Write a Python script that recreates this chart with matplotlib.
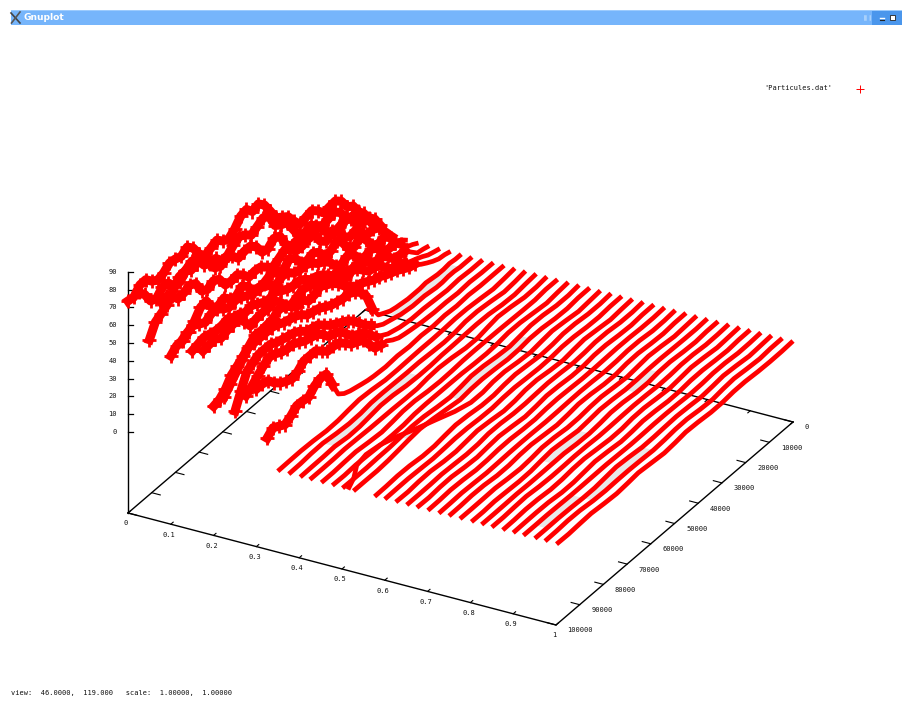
import numpy as np
import matplotlib
matplotlib.use("Agg")
import matplotlib.pyplot as plt
from matplotlib.patches import Rectangle, Polygon

t_knots = [0, 5000, 10000, 15000, 20000, 25000, 30000, 35000, 40000, 45000, 50000,
           55000, 60000, 65000, 70000, 75000, 80000, 85000, 90000, 95000, 100000]
t_mids = [2500, 7500, 12500, 17500, 22500, 27500, 32500, 37500, 42500, 47500,
          52500, 57500, 62500, 67500, 72500, 77500, 82500, 87500, 92500, 97500]

# particles near the left wall: start x and height z at each t knot
wild_x = [0.0, 0.025, 0.05, 0.075, 0.1, 0.125, 0.15, 0.175, 0.2, 0.225, 0.25, 0.275, 0.3, 0.325]
wild_z = [
    [0, 18.6, 27, 29.5, 33, 35, 38.7, 46.6, 55.7, 65.4, 68, 62.7, 61.7, 63.5, 65.8, 75.4, 74.4, 72.2, 73.4, 76.9, 73.6],
    [0, 16, 20, 28, 30, 32, 33.5, 41.5, 49.5, 60, 60, 61, 61, 58, 62, 70, 70, 66.5, 71.6, 69.5, 80],
    [0, 14.5, 18, 26, 27, 29.5, 38.5, 36.5, 39, 50.5, 49, 56, 59, 62, 62, 69.5, 75, 76.5, 71, 64, 55],
    [0, 8.8, 16, 19.6, 23, 33, 32, 42.4, 40.8, 44.8, 44.9, 46, 49.6, 53, 55.3, 62, 62, 71, 71.4, 75.4, 78.3],
    [0, 5.3, 13.2, 14.4, 24.6, 23.6, 33.8, 31, 38.4, 38.5, 46.5, 44.3, 45.5, 45.6, 54, 52.5, 54.3, 62.8, 57.2, 51.7, 49],
    [0, 3.5, 11.4, 12.6, 19.4, 19.6, 27, 27, 35, 40, 42, 46, 45, 51, 51, 55, 55, 60, 58, 62, 59],
    [0, 1.7, 8.5, 9.7, 16.5, 18.9, 24.6, 25.8, 28.7, 35, 38, 43, 44, 48, 48, 52, 53, 56, 55, 57, 55],
    [0, 2.1, 5.6, 9, 11.3, 18.8, 21.6, 28.5, 28.5, 36, 38.8, 41.7, 41.8, 41.9, 50.4, 49.4, 47.8, 57.4, 56.3, 57.6, 56.5],
    [0, 1.5, 4.9, 10, 13, 16.5, 20, 23, 26, 32, 39, 43, 40.5, 43, 49, 47.6, 46.5, 43.8, 38.3, 31, 27],
    [0, 0.5, 0, 1, 0.5, 1, 2.3, 5.8, 22, 30, 32, 34, 38, 40, 45, 47, 50, 50, 50, 42, 34],
    [0, 0, 0.5, 0, 1, 1, 2, 4, 7, 13, 21, 26, 30, 36, 38, 43, 45, 48, 48, 44, 27.5],
    [0, 0, 0.5, 0, 0.5, 1, 1, 2, 4, 8, 16, 20, 28, 31, 38, 40, 44, 45, 48, 43, 37.6],
    [0, 0, 0.5, 0, 0.5, 0.5, 1, 2, 3.3, 7.3, 9, 19, 22.6, 29, 30, 36, 36, 31.6, 35, 42, 43],
    [0, 0, 0, 0.5, 0, 0.5, 0, 0.5, 0, 0.5, 0, 0.5, 1.8, 3.6, 7.6, 24.5, 23.5, 20.8, 18, 18, 17],
]
wild_z_mid = [
    [12, 21, 30, 29, 36, 34, 44, 49, 62, 64, 67, 60, 65, 62, 72, 73, 75, 71, 77, 73],
    [9, 20, 22, 31, 29, 35, 35, 48, 52, 62, 58, 63, 58, 62, 64, 72, 66, 71, 68, 76],
    [8, 18, 20, 28, 26, 35, 35, 40, 43, 52, 50, 59, 58, 64, 64, 74, 74, 76, 66, 62],
    [5, 14, 16, 24, 26, 35, 35, 43, 41, 47, 43, 49, 49, 56, 56, 64, 64, 73, 71, 78],
    [3, 10, 12, 20, 22, 30, 31, 36, 37, 44, 43, 47, 44, 51, 51, 56, 56, 62, 54, 52],
    [2, 8, 11, 17, 18, 25, 25, 32, 37, 42, 43, 47, 47, 52, 53, 56, 57, 60, 60, 61],
    [1, 5, 9, 14, 17, 23, 24, 28, 32, 37, 41, 43, 46, 47, 50, 51, 54, 55, 56, 56],
    [1, 4, 7, 11, 15, 21, 25, 30, 32, 38, 40, 43, 40, 47, 49, 49, 53, 57, 55, 57],
    [1, 3, 7, 11, 15, 18, 21, 25, 29, 36, 41, 41, 44, 46, 50, 47, 47, 41, 36, 28],
    [0, 0, 0.5, 0.5, 0.5, 1.5, 4, 12, 27, 32, 33, 36, 39, 43, 46, 49, 50, 50, 46, 38],
    [0, 0.5, 0, 0.5, 1, 1.5, 3, 5, 10, 17, 24, 28, 33, 37, 41, 44, 46, 48, 46, 36],
    [0, 0.25, 0.25, 0.25, 0.75, 1, 1.5, 3, 6, 12, 18, 24, 30, 35, 39, 42, 44, 47, 46, 40],
    [0, 0.25, 0.25, 0.25, 0.5, 0.75, 1.5, 2.6, 5, 8, 14, 21, 26, 30, 33, 36, 33, 33, 38, 43],
    [0, 0, 0.25, 0.25, 0.25, 0.25, 0.25, 0.25, 0.25, 0.25, 0.25, 1, 2.7, 5, 16, 25, 20, 21, 16, 20],
]

# particles lying flat on z = 0: start x and drift (in x, thousandths) at each t knot
flat_x = [0.35, 0.375, 0.4, 0.425, 0.45, 0.475, 0.5, 0.525, 0.55, 0.575, 0.6, 0.625, 0.65, 0.675,
          0.7, 0.725, 0.75, 0.775, 0.8, 0.825, 0.85, 0.875, 0.9, 0.925, 0.95, 0.975, 1.0]
common_wave = [0, 1, 2, 0, -1.5, 0, 2, 1, -1, -1, 1, 2, 0, -1.5, 0, 1.5, 1, -1, -1, 0, 0]
flat_drift = [
    [0, 1.8, 3, 1.8, 0.6, -1.2, -1.8, 0, 1.8, 2.4, 1.2, 0, -1.8, -2.4, -1.2, 0.6, 1.8, 1.2, 0, -0.6, 0],
    [0, 2.4, 3.6, 1.2, -0.6, -1.8, 0, 2.4, 3, 1.2, -0.6, -2.4, -1.2, 0.6, 2.4, 1.8, 0, -1.8, -1.2, 0, 0.6],
    [0, 1.2, 3, 3.6, 1.2, -1.2, -2.4, -0.6, 1.8, 3.6, 1.8, -0.6, -2.4, -1.8, 0, 1.8, 3, 1.2, 2.4, 1.8, 2.4],
    [0, 1.8, 1.2, -1.2, -2.4, 0, 2.4, 3, 0.6, -1.8, -2.4, 0, 1.8, 2.4, 0.6, -1.2, -1.8, -0.6, 0.6, 0, 0],
    [0, -1.2, 0.6, 2.4, 3, 0.6, -1.8, -1.2, 1.2, 3, 1.8, -0.6, -1.8, 0, 1.8, 3, 1.2, 0, 1.2, 1.8, 1.8],
    [0, 1.2, 3, 1.8, 0, -1.8, -0.6, 1.8, 3, 1.2, -1.2, -2.4, -0.6, 1.8, 3.6, 3, 3, 3.6, 2.4, 3, 2.4],
    [0, 1.8, 0.6, -1.2, -0.6, 1.2, 2.4, 1.2, -0.6, -1.8, 0, 1.8, 1.2, -1.2, -3.6, -3, -0.6, 1.8, 3, 1.8, 1.2],
    [0, -0.6, 1.2, 2.4, 0.6, -1.2, 0, 1.8, 1.2, -0.6, -1.8, 0, -2.4, -5, -9, -8, -4, 1.2, 3, 1.8, 1.8],
    [0, 1.2, 2.4, 0.6, -0.6, 0.6, 1.8, 0.6, -1.2, -0.6, 1.2, 0, -8, -23, -40, -60, -73, -76, -70, -50, -36],
    [0, 1.2, 0, -1.2, 0, 1.8, 1.2, -0.6, -1.2, 0.6, 1.8, 0.6, -1.2, -1.8, -0.6, 1.2, 1.8, 0.6, 0, 0.6, 1.2],
    [0, -0.6, 0.6, 1.8, 0.6, -1.2, -0.6, 1.2, 1.8, 0, -1.2, 0, 1.2, 0.6, -1.2, -1.2, 0.6, 1.2, 0, -0.6, 0],
    [0, 0.6, 1.8, 0.6, -0.6, 0.6, 1.8, 0.6, -1.2, -0.6, 1.2, 1.8, 0, -1.2, 0, 1.2, 0.6, -0.6, 0, 1.2, 0.6],
    [0, 1.2, 0, -1.2, 0, 1.2, 0.6, -0.6, 0, 1.2, 0.6, -0.6, -1.2, 0, 1.8, 1.2, 0, 0.6, 1.8, 1.2, 1.2],
    [0, -0.6, 0.6, 1.2, 0, -1.2, 0, 1.2, 0.6, -0.6, 0.6, 1.8, 0.6, -0.6, 0, 1.2, 0, -1.2, -0.6, 0.6, 0],
    [0, 0.6, -0.6, 0, 1.2, 0.6, -0.6, 0.6, 1.2, 0, -1.2, 0, 1.2, 0.6, -0.6, 0, 1.2, 0.6, -0.6, 0, 0.6],
    [0, 1.2, 0.6, -0.6, 0.6, 1.2, 0, -0.6, 0.6, 1.2, 0, -0.6, 0.6, 1.8, 0.6, 0, 1.2, 1.8, 0.6, 0.6, 1.2],
    [0, -0.6, 0.6, 1.2, 0, -0.6, 0.6, 1.2, 0, -1.2, 0, 1.2, 0.6, -0.6, -1.2, 0, 0.6, -0.6, -1.2, -0.6, 0],
    [0, 0.6, 1.2, 0, -0.6, 0.6, 1.2, 0, -0.6, 0.6, 1.2, 0.6, -0.6, 0, 1.8, 2.4, 1.2, 0.6, 1.2, 0.6, 0.6],
    [0, 0.6, -0.6, 0.6, 1.2, 0, -0.6, 0.6, 0, -1.2, -0.6, 0.6, -0.6, -1.8, -0.6, 1.2, 2.4, 3, 1.8, 2.4, 2.4],
    [0, -0.6, 0.6, 1.2, 0, -0.6, 0.6, 1.2, 0, -0.6, 0.6, 1.8, 3, 1.8, 0.6, -0.6, 0, 1.2, 1.8, 1.2, 1.2],
    [0, 0.6, 0, -0.6, 0.6, 1.2, 0, -0.6, 0.6, 1.2, 0, -0.6, 0, 1.2, 0.6, -0.6, -1.2, -1.8, -0.6, 0, 0],
    [0, 0.6, 1.2, 0, -0.6, 0.6, 1.2, 0, -0.6, 0, 1.2, 0.6, 0, -1.2, -1.8, -0.6, 0.6, 0, -0.6, 0, 0.6],
    [0, -0.6, 0.6, 1.2, 0.6, -0.6, 0, 1.2, 0.6, -0.6, 0, 0.6, -0.6, -1.2, 0, 1.2, 1.8, 0.6, 0, -0.6, 0],
    [0, 0.6, 0, -0.6, 0.6, 1.2, 0, -0.6, 0.6, 0.6, -0.6, -1.2, 0, 0.6, -0.6, -1.8, -1.2, 0, -0.6, -1.2, -1.2],
    [0, 0.6, 1.2, 0, -0.6, 0.6, 0.6, -0.6, 0, 1.2, 0.6, 0, -1.2, -1.8, -0.6, 0.6, 1.2, 1.8, 1.2, 0.6, 0.6],
    [0, -0.6, 0.6, 0.6, -0.6, 0, 1.2, 0.6, -0.6, 0, 0.6, 1.2, 1.8, 2.4, 1.2, 0.6, 0, -1.2, -1.8, -1.2, -0.6],
    [0, 0.6, 0, 1.2, 0.6, -0.6, 0, 1.2, 0.6, -0.6, 0.6, 1.8, 1.2, 0, 1.2, 1.8, 0.6, 0, 1.2, 1.8, 1.2],
]

# shaded gaps between flat tracks: left track, right track, first knot, last knot
gray_gaps = [(1, 2, 10, 17), (6, 7, 5, 11), (6, 7, 14, 15), (18, 19, 5, 7), (18, 19, 11, 14),
             (24, 25, 11, 16), (23, 24, 16, 19)]
hook_gap_x = (0.225, 0.25)
hook_gap_knots = (1, 6)

x_ticks = [0, 0.1, 0.2, 0.3, 0.4, 0.5, 0.6, 0.7, 0.8, 0.9, 1]
x_labels = ["0", "0.1", "0.2", "0.3", "0.4", "0.5", "0.6", "0.7", "0.8", "0.9", "1"]
t_ticks = [0, 10000, 20000, 30000, 40000, 50000, 60000, 70000, 80000, 90000, 100000]
z_ticks = [0, 10, 20, 30, 40, 50, 60, 70, 80, 90]
Z_FLOOR = -45.5

RED = "#ff0000"
MONO = "DejaVu Sans Mono"
FS = 5.05


def project(x, t, z):
    """gnuplot view 46,119 as seen in this window, in window pixels."""
    x, t, z = np.asarray(x, float), np.asarray(t, float) / 1e5, np.asarray(z, float)
    return 365 + 428 * x - 237 * t, 229 + 112 * x + 203 * t - 1.78 * z


fig = plt.figure(figsize=(9.03, 7.02), dpi=100)
ax = fig.add_axes([0, 0, 1, 1])
ax.set_xlim(0, 903)
ax.set_ylim(702, 0)
ax.axis("off")

# window title bar
ax.add_patch(Rectangle((11, 10), 892, 15, fc="#76b5fb", ec="none"))
ax.add_patch(Rectangle((11, 10), 892, 1.2, fc="#9ccbfd", ec="none"))
ax.add_patch(Rectangle((872, 11), 31, 14, fc="#4a96ec", ec="none"))
ax.plot([11, 20], [13, 23], color="#444444", lw=1.2)
ax.plot([11.5, 20], [23, 12], color="#555555", lw=1.2)
ax.text(24, 18, "Gnuplot", color="white", fontsize=6.6, fontweight="bold", va="center",
        family="DejaVu Sans")
ax.plot([864, 871], [18, 18], color="#a8d0fb", lw=4, ls=(0, (0.5, 0.5)))
ax.plot([880, 884], [18, 18], color="white", lw=1)
ax.plot([880, 884], [20, 20], color="#222222", lw=0.8)
ax.add_patch(Rectangle((890, 15), 5, 5, fc="white", ec="#222222", lw=0.6))

# box edges on the floor
corners = [(0, 100000), (1, 100000), (1, 0)]
cx, cy = project([c[0] for c in corners], [c[1] for c in corners], [Z_FLOOR] * 3)
ax.plot(cx, cy, color="black", lw=1.0, zorder=1)
bx, by = project([0, 0, 1], [100000, 0, 0], [Z_FLOOR] * 3)
ax.plot(bx, by, color="black", lw=1.0, zorder=1)
zx, zy = project([0, 0], [100000, 100000], [Z_FLOOR, 90])
ax.plot(zx, zy, color="black", lw=1.0, zorder=1)

# ticks
for v, lab in zip(x_ticks, x_labels):
    fx, fy = project(v, 100000, Z_FLOOR)
    ex, ey = project(v, 99000, Z_FLOOR)
    ax.plot([fx, ex], [fy, ey], color="black", lw=0.8, zorder=1)
    fx2, fy2 = project(v, 0, Z_FLOOR)
    ex2, ey2 = project(v, 1000, Z_FLOOR)
    ax.plot([fx2, ex2], [fy2, ey2], color="black", lw=0.8, zorder=1)
    ax.text(fx - 2, fy + 10.5, lab, family=MONO, fontsize=FS, ha="center", va="center", color="#111111")
for v in t_ticks:
    fx, fy = project(1, v, Z_FLOOR)
    ex, ey = project(0.98, v, Z_FLOOR)
    ax.plot([fx, ex], [fy, ey], color="black", lw=0.8, zorder=1)
    fx2, fy2 = project(0, v, Z_FLOOR)
    ex2, ey2 = project(0.02, v, Z_FLOOR)
    ax.plot([fx2, ex2], [fy2, ey2], color="black", lw=0.8, zorder=1)
    ax.text(fx + 11.5, fy + 5.5, str(v), family=MONO, fontsize=FS, ha="left", va="center", color="#111111")
for v in z_ticks:
    fx, fy = project(0, 100000, v)
    ax.plot([fx, fx + 5], [fy, fy], color="black", lw=0.9, zorder=1)
    ax.text(fx - 11, fy, str(v), family=MONO, fontsize=FS, ha="right", va="center", color="#111111")

# shaded gaps
flat_paths = [x0 + (np.asarray(d) + np.asarray(common_wave)) / 1000.0 for x0, d in zip(flat_x, flat_drift)]
zeros = np.zeros(len(t_knots))
for a, b, k0, k1 in gray_gaps:
    xa, ya = project(flat_paths[a][k0:k1 + 1], t_knots[k0:k1 + 1], zeros[k0:k1 + 1])
    xb, yb = project(flat_paths[b][k0:k1 + 1], t_knots[k0:k1 + 1], zeros[k0:k1 + 1])
    ax.add_patch(Polygon(np.c_[np.r_[xa, xb[::-1]], np.r_[ya, yb[::-1]]], fc="#e8e8e8", ec="none", zorder=1.5))
k0, k1 = hook_gap_knots
xa, ya = project(np.full(k1 - k0 + 1, hook_gap_x[0]), t_knots[k0:k1 + 1], zeros[k0:k1 + 1])
xb, yb = project(np.full(k1 - k0 + 1, hook_gap_x[1]), t_knots[k0:k1 + 1], zeros[k0:k1 + 1])
ax.add_patch(Polygon(np.c_[np.r_[xa, xb[::-1]], np.r_[ya, yb[::-1]]], fc="#e8e8e8", ec="none", zorder=1.5))

# flat tracks
for path in flat_paths:
    px, py = project(path, t_knots, zeros)
    ax.plot(px, py, color=RED, lw=3.4, solid_joinstyle="round", solid_capstyle="butt", zorder=3)

# wandering tracks: thin while close to the floor plane, a thick cloud of + once they climb
t_all = np.ravel(np.column_stack([t_knots[:-1], t_mids]))
t_all = np.append(t_all, t_knots[-1])
for x0, z, zm in zip(wild_x, wild_z, wild_z_mid):
    z_all = np.ravel(np.column_stack([z[:-1], zm]))
    z_all = np.append(z_all, z[-1])
    px, py = project(np.full(len(t_all), x0), t_all, z_all)
    ax.plot(px, py, color=RED, lw=3.4, solid_joinstyle="round", solid_capstyle="butt", zorder=3)
    cloud = z_all >= 8
    hx, hy = np.ma.masked_where(~cloud, px), np.ma.masked_where(~cloud, py)
    ax.plot(hx, hy, color=RED, lw=6.5, solid_joinstyle="round", zorder=3)
    ax.plot(px[cloud], py[cloud], ls="none", color=RED, marker="+", ms=10, mew=2.0, zorder=3)

# legend and status line
ax.text(832, 88, "'Particules.dat'", family=MONO, fontsize=FS, ha="right", va="center", color="#111111")
ax.plot([860], [89], marker="+", color=RED, ms=5.5, mew=0.7, ls="none")
ax.text(11, 693.5, "view:  46.0000,  119.000   scale:  1.00000,  1.00000", family=MONO, fontsize=FS,
        ha="left", va="center", color="#111111")

fig.savefig("out.png", dpi=100)
